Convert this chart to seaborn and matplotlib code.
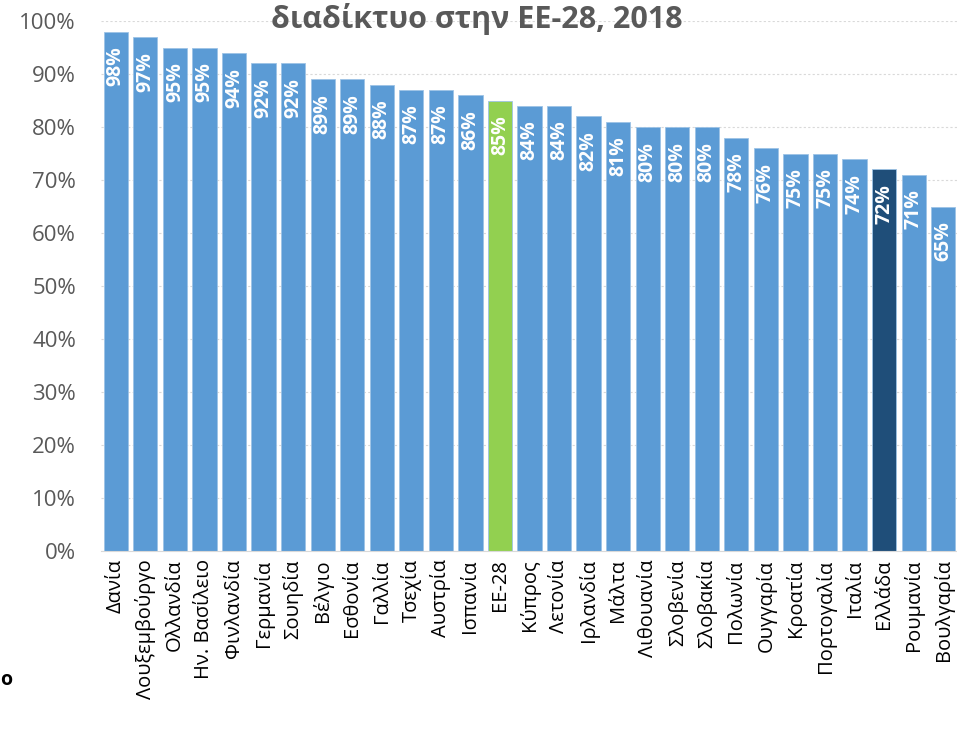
import matplotlib
matplotlib.use("Agg")
import matplotlib.pyplot as plt
import seaborn as sns
import pandas as pd
from matplotlib.ticker import MultipleLocator, FuncFormatter

countries = ["Δανία", "Λουξεμβούργο", "Ολλανδία", "Ην. Βασίλειο", "Φινλανδία",
             "Γερμανία", "Σουηδία", "Βέλγιο", "Εσθονία", "Γαλλία", "Τσεχία",
             "Αυστρία", "Ισπανία", "ΕΕ-28", "Κύπρος", "Λετονία", "Ιρλανδία",
             "Μάλτα", "Λιθουανία", "Σλοβενία", "Σλοβακία", "Πολωνία", "Ουγγαρία",
             "Κροατία", "Πορτογαλία", "Ιταλία", "Ελλάδα", "Ρουμανία", "Βουλγαρία"]
values = [98, 97, 95, 95, 94, 92, 92, 89, 89, 88, 87, 87, 86, 85, 84, 84, 82,
          81, 80, 80, 80, 78, 76, 75, 75, 74, 72, 71, 65]
title = "διαδίκτυο στην ΕΕ-28, 2018"

sns.set_style("white")
plt.rcParams['font.family'] = ['Open Sans', 'DejaVu Sans']

base = "#5B9BD5"
colors = {c: base for c in countries}
colors["ΕΕ-28"] = "#92D050"
colors["Ελλάδα"] = "#1F4E79"

df = pd.DataFrame({"country": countries, "value": values})

fig = plt.figure(figsize=(9.57, 7.34), dpi=100)
ax = fig.add_axes([101/957, 1 - 551/734, 857/957, 530/734])
sns.barplot(data=df, x="country", y="value", hue="country", palette=colors,
            legend=False, ax=ax, width=0.82, saturation=1,
            edgecolor="#9DC3E6", linewidth=0.6)

ax.set_ylim(0, 100)
ax.set_xlim(-0.5, len(countries) - 0.5)
ax.yaxis.set_major_locator(MultipleLocator(10))
ax.yaxis.set_major_formatter(FuncFormatter(lambda v, p: f"{int(v)}%"))
ax.grid(axis="y", color="#D9D9D9", linestyle=(0, (2, 2)), linewidth=0.8)
ax.set_axisbelow(True)
for s in ["top", "right", "left"]:
    ax.spines[s].set_visible(False)
ax.spines["bottom"].set_color("#D9D9D9")
ax.set_xlabel("")
ax.set_ylabel("")
ax.tick_params(axis="y", labelsize=16, colors="#595959", length=0, pad=18)
ax.tick_params(axis="x", labelsize=14.5, labelcolor="black", length=0, pad=6,
               labelrotation=90)

for i, v in enumerate(values):
    ax.text(i, v - 2.8, f"{v}%", rotation=90, ha="center", va="top",
            color="white", fontsize=14, fontweight="bold")

fig.text(477/957, 1 - 28/734, title, ha="center", va="baseline",
         fontsize=22, fontweight="bold", color="#595959")
fig.text(0/957, 1 - 680/734, "ο", ha="left", va="center", fontsize=14,
         fontweight="bold", color="black")

fig.savefig("out.png", dpi=100)
